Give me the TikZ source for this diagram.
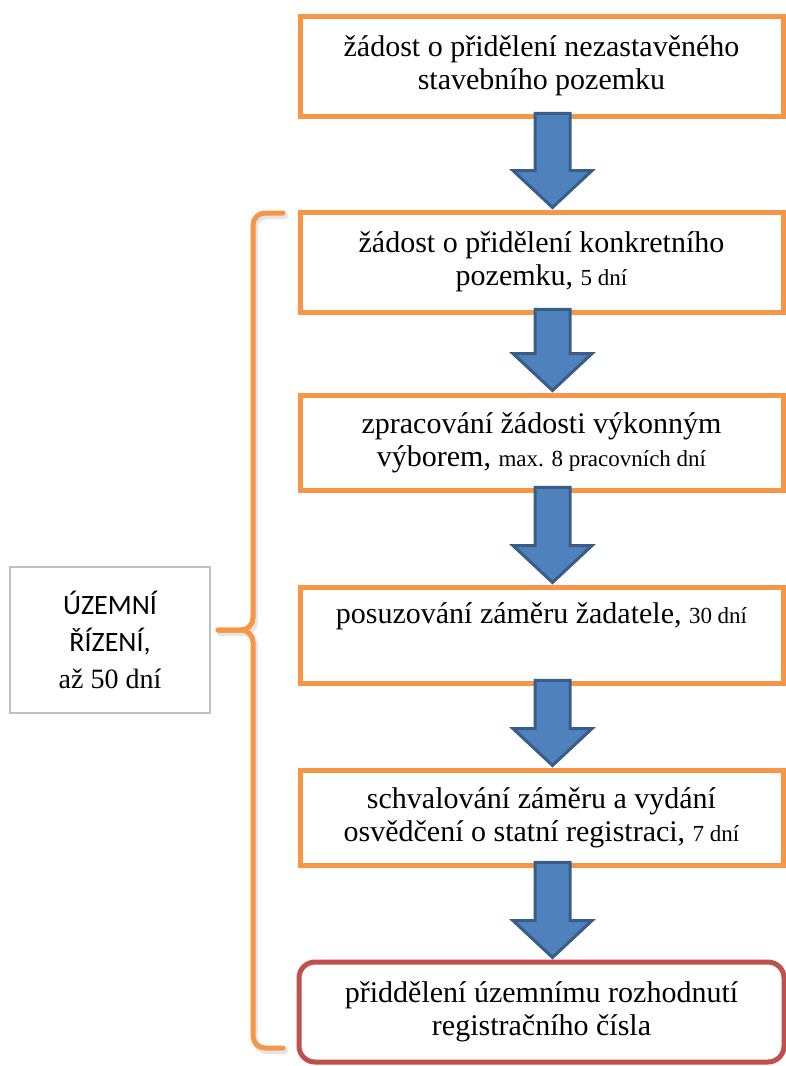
\documentclass[tikz,border=0pt]{standalone}
\usepackage{fontspec}
\setmainfont{Liberation Serif}
\newfontfamily\calibrifont{Carlito}
\usetikzlibrary{positioning, calc, shapes.arrows}
\definecolor{boxorange}{HTML}{F79646}
\definecolor{boxred}{HTML}{C0504D}
\definecolor{arrowfill}{HTML}{4F81BD}
\definecolor{arrowline}{HTML}{385D8A}
\definecolor{sidegray}{HTML}{BFBFBF}
\newcommand{\lhuta}[1]{{\fontsize{23}{26}\selectfont #1}}

\begin{document}
\begin{tikzpicture}[x=1pt, y=-1pt, every node/.style={align=center, font=\fontsize{30}{33}\selectfont}]
  \tikzset{stepbox/.style={draw=boxorange, line width=5pt, minimum width=483pt, minimum height=100pt, inner sep=0pt},
    downarrow/.style={single arrow, rotate=-90, draw=arrowline, fill=arrowfill, line width=3pt, inner xsep=0pt, inner ysep=16pt, single arrow head extend=22pt, single arrow tip angle=94},
    brace/.style={draw=boxorange, line width=5pt, line cap=round, rounded corners=12pt}}
  \useasboundingbox (0,0) rectangle (785,1066);

  % kroky rizeni
  \node[stepbox] (zadost) at (541.5,66) {žádost o přidělení nezastavěného\\stavebního pozemku};
  \node[stepbox, below=91pt of zadost] (konkretni) {žádost o přidělení konkretního\\pozemku, \lhuta{5 dní}};
  \node[stepbox, minimum height=95pt, below=78pt of konkretni] (zpracovani) {zpracování žádosti výkonným\\výborem, \lhuta{max. 8 pracovních dní}};
  \node[stepbox, minimum height=96pt, below=92pt of zpracovani] (posuzovani) {posuzování záměru žadatele, \lhuta{30 dní}\\\strut};
  \node[stepbox, minimum height=95pt, below=82pt of posuzovani] (schvalovani) {schvalování záměru a vydání\\osvědčení o statní registraci, \lhuta{7 dní}};
  \node[stepbox, draw=boxred, rounded corners=16pt, minimum width=485pt, below=92pt of schvalovani] (prideleni) {přiddělení územnímu rozhodnutí\\registračního čísla};

  % sipky mezi kroky
  \foreach \a/\b in {zadost/konkretni, konkretni/zpracovani, zpracovani/posuzovani, posuzovani/schvalovani, schvalovani/prideleni}
    \path let \p1 = (\a.south), \p2 = (\b.north) in
      node[downarrow, minimum height=\y1-\y2+3pt, anchor=tip] at ($(\b.north)+(11,0)$) {};

  % slozena zavorka
  \draw[brace, draw=black!10, line width=6pt, shift={(2,3)}] (283,213) -- (253,213) -- (253,630) -- (218,630);
  \draw[brace, draw=black!10, line width=6pt, shift={(2,3)}] (218,630) -- (253,630) -- (253,1048) -- (283,1048);
  \draw[brace] (283,213) -- (253,213) -- (253,630) -- (218,630);
  \draw[brace] (218,630) -- (253,630) -- (253,1048) -- (283,1048);

  \node[draw=sidegray, line width=1.5pt, minimum width=200pt, minimum height=146pt, font=\fontsize{28}{37}\selectfont] (uzemni) at (110,640) {{\calibrifont ÚZEMNÍ}\\{\calibrifont ŘÍZENÍ,}\\až 50 dní};
\end{tikzpicture}
\end{document}
